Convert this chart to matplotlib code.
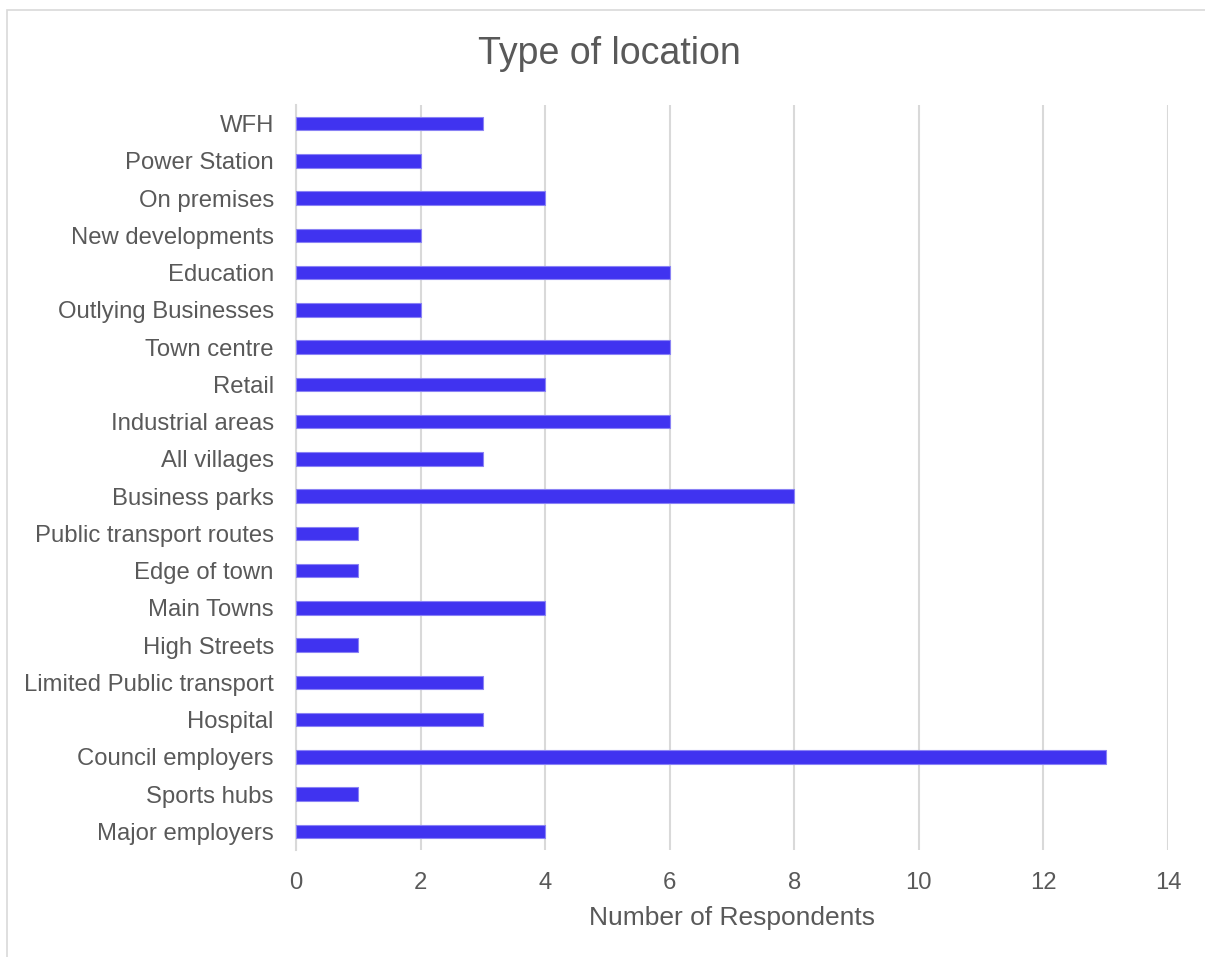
import matplotlib.pyplot as plt
from matplotlib.patches import Rectangle

plt.rcParams['font.family'] = ['Liberation Sans', 'DejaVu Sans']

# categories listed bottom to top
locations = ["Major employers", "Sports hubs", "Council employers", "Hospital",
             "Limited Public transport", "High Streets", "Main Towns", "Edge of town",
             "Public transport routes", "Business parks", "All villages",
             "Industrial areas", "Retail", "Town centre", "Outlying Businesses",
             "Education", "New developments", "On premises", "Power Station", "WFH"]
respondents = [4, 1, 13, 3, 3, 1, 4, 1, 1, 8, 3, 6, 4, 6, 2, 6, 2, 4, 2, 3]
xticks = [0, 2, 4, 6, 8, 10, 12, 14]

text_col = '#595959'
grid_col = '#d9d9d9'

fig = plt.figure(figsize=(12.05, 9.57), dpi=100)
ax = fig.add_axes([296 / 1205, 1 - 850 / 957, 872 / 1205, 745 / 957])

ax.barh(range(len(locations)), respondents, height=0.36, color='#4033F0',
        edgecolor='#8a82f5', linewidth=0.8, zorder=3)

ax.set_xlim(0, 14)
ax.set_ylim(-0.5, len(locations) - 0.5)
ax.set_xticks(xticks)
ax.set_yticks(range(len(locations)))
ax.set_yticklabels(locations)
ax.tick_params(axis='both', length=0, colors=text_col, labelsize=17.2)
ax.tick_params(axis='x', pad=16)
ax.tick_params(axis='y', pad=16)
ax.xaxis.grid(True, color=grid_col, linewidth=1.5, zorder=0)
for s in ['top', 'right', 'bottom']:
    ax.spines[s].set_visible(False)
ax.spines['left'].set_color(grid_col)
ax.spines['left'].set_linewidth(1.5)

ax.set_xlabel("Number of Respondents", color=text_col, fontsize=19, labelpad=8.5)
fig.text(609 / 1205, 1 - 54 / 957, "Type of location", ha='center', va='center',
         color=text_col, fontsize=27)

fig.patches.append(Rectangle((7 / 1205, -0.01), 1.02, 1 - 10 / 957 + 0.01,
                             transform=fig.transFigure, fill=False,
                             edgecolor=grid_col, linewidth=1.2))

fig.savefig("out.png", dpi=100, facecolor='white')
